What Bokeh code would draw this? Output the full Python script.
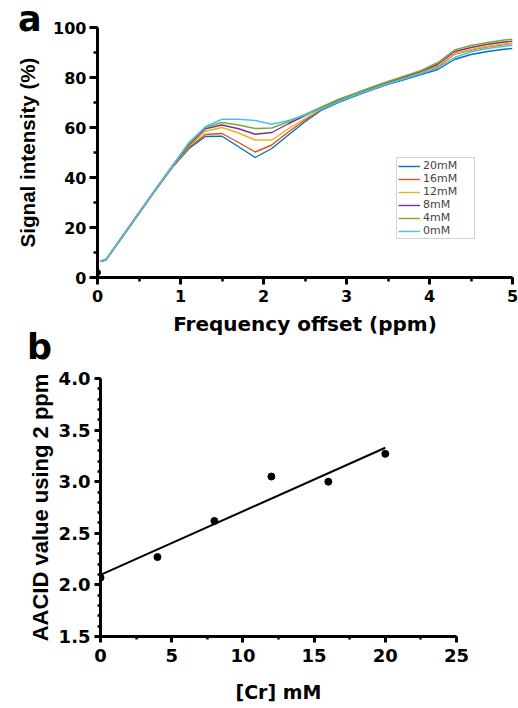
import numpy as np
from bokeh.plotting import figure
from bokeh.models import (Legend, LegendItem, SingleIntervalTicker, Div,
                          Range1d, PrintfTickFormatter)
from bokeh.layouts import column, row
from bokeh.embed import file_html
from bokeh.resources import INLINE

# ---------------- data (panel a) ----------------
ppm = [0.03, 0.1, 0.3, 0.5, 0.7, 0.9, 1.1, 1.3, 1.5, 1.7, 1.9, 2.1, 2.3, 2.5,
       2.7, 2.9, 3.1, 3.3, 3.5, 3.7, 3.9, 4.1, 4.3, 4.5, 4.7, 4.9, 5.0]
sig_20mM = [6.5, 7.0, 16.2, 25.6, 35.0, 44.0, 51.5, 56.4, 56.5, 52.3, 48.0, 51.6, 57.0, 62.3,
            67.0, 70.0, 72.6, 75.0, 77.3, 79.2, 81.2, 83.2, 87.2, 89.2, 90.4, 91.3, 91.6]
sig_16mM = [6.5, 7.0, 16.3, 25.7, 35.1, 44.2, 52.0, 57.2, 57.6, 54.0, 50.2, 53.0, 58.2, 63.0,
            67.3, 70.5, 73.0, 75.4, 77.7, 79.7, 81.8, 84.2, 89.3, 91.0, 92.3, 93.2, 93.6]
sig_12mM = [6.4, 6.9, 16.2, 25.7, 35.1, 44.3, 52.5, 58.5, 60.0, 57.8, 55.0, 55.0, 59.5, 63.6,
            67.5, 70.7, 73.2, 75.6, 77.9, 80.0, 82.1, 84.6, 89.5, 91.2, 92.5, 93.4, 93.7]
sig_8mM = [6.5, 7.0, 16.5, 25.9, 35.3, 44.5, 53.0, 59.5, 61.0, 59.5, 57.3, 58.0, 61.5, 64.8,
           68.0, 71.0, 73.4, 75.9, 78.2, 80.3, 82.5, 85.3, 90.3, 92.0, 93.3, 94.2, 94.5]
sig_4mM = [6.6, 7.1, 16.6, 26.0, 35.4, 44.6, 53.5, 60.0, 62.0, 61.0, 59.6, 59.8, 62.3, 65.2,
           68.2, 71.2, 73.6, 76.1, 78.4, 80.6, 82.8, 86.0, 91.0, 92.8, 94.0, 95.0, 95.3]
sig_0mM = [6.5, 7.0, 16.5, 25.9, 35.3, 44.5, 54.0, 60.3, 63.3, 63.3, 62.8, 61.3, 62.8, 65.0,
           67.5, 70.3, 72.9, 75.2, 77.5, 79.5, 81.6, 83.8, 88.0, 90.3, 91.6, 92.5, 92.8]
series_labels = ["20mM", "16mM", "12mM", "8mM", "4mM", "0mM"]
series_values = [sig_20mM, sig_16mM, sig_12mM, sig_8mM, sig_4mM, sig_0mM]
series_colors = ["#0072BD", "#D95319", "#EDB120", "#7E2F8E", "#77AC30", "#4DBEEE"]
origin_x = [0.0]
origin_y = [2.0]

# ---------------- data (panel b) ----------------
cr_mM = [0, 4, 8, 12, 16, 20]
aacid = [2.07, 2.27, 2.62, 3.05, 3.00, 3.27]

BOLD = "DejaVu Sans"
ROT = "Liberation Sans"


def style_axis(ax, tick_size, tick_out, minor_out, label_font, label_size,
               label_standoff, axis_standoff):
    ax.axis_line_width = 3
    ax.axis_line_color = "black"
    ax.major_tick_line_width = 3
    ax.minor_tick_line_width = 2.5
    ax.major_tick_line_color = "black"
    ax.minor_tick_line_color = "black"
    ax.major_tick_in = 0
    ax.minor_tick_in = 0
    ax.major_tick_out = tick_out
    ax.minor_tick_out = minor_out
    ax.major_label_text_font = BOLD
    ax.major_label_text_font_style = "bold"
    ax.major_label_text_font_size = tick_size
    ax.major_label_text_color = "black"
    ax.major_label_standoff = label_standoff
    ax.axis_label_text_font = label_font
    ax.axis_label_text_font_style = "bold"
    ax.axis_label_text_font_size = label_size
    ax.axis_label_text_color = "black"
    ax.axis_label_standoff = axis_standoff


def panel_letter(letter, left, top):
    return Div(text=letter, styles={
        "position": "absolute", "left": f"{left}px", "top": f"{top}px",
        "font-family": "'DejaVu Sans'", "font-weight": "bold",
        "font-size": "35px", "line-height": "1", "color": "black",
        "z-index": "10", "margin": "0", "padding": "0"})


# ---------------- panel a ----------------
pa = figure(width=518, height=338, output_backend="svg", toolbar_location=None,
            x_range=Range1d(0, 5), y_range=Range1d(0, 100),
            min_border_left=97, min_border_right=6, min_border_top=27,
            min_border_bottom=61)
pa.outline_line_color = None
pa.xgrid.visible = False
pa.ygrid.visible = False
pa.xaxis.ticker = SingleIntervalTicker(interval=1, num_minor_ticks=2)
pa.yaxis.ticker = SingleIntervalTicker(interval=20, num_minor_ticks=2)
pa.xaxis.axis_label = "Frequency offset (ppm)"
pa.yaxis.axis_label = "Signal intensity (%)"
style_axis(pa.xaxis[0], "16px", 7, 4, BOLD, "20px", 5, 7)
style_axis(pa.yaxis[0], "16px", 8, 4, ROT, "20.6px", 3, 11)

items = []
for lab, vals, col in zip(series_labels, series_values, series_colors):
    r = pa.line(ppm, vals, line_color=col, line_width=1.4)
    items.append(LegendItem(label=lab, renderers=[r]))
pa.scatter(origin_x, origin_y, size=6, color="black")

leg = Legend(items=items, location=(299, 38), label_text_font="DejaVu Sans",
             label_text_font_size="11px", glyph_width=22, glyph_height=12,
             label_height=12, label_width=50, label_standoff=3, spacing=0,
             padding=1, margin=0, border_line_color="#a6a6a6",
             border_line_width=1.2, background_fill_color="white")
pa.add_layout(leg, "center")

# ---------------- panel b ----------------
pb = figure(width=518, height=370, output_backend="svg", toolbar_location=None,
            x_range=Range1d(0, 25), y_range=Range1d(1.5, 4.0),
            min_border_left=100, min_border_right=62, min_border_top=40,
            min_border_bottom=72)
pb.outline_line_color = None
pb.xgrid.visible = False
pb.ygrid.visible = False
pb.xaxis.ticker = SingleIntervalTicker(interval=5, num_minor_ticks=2)
pb.yaxis.ticker = SingleIntervalTicker(interval=0.5, num_minor_ticks=5)
pb.yaxis.formatter = PrintfTickFormatter(format="%.1f")
pb.xaxis.axis_label = "[Cr] mM"
pb.yaxis.axis_label = "AACID value using 2 ppm"
style_axis(pb.xaxis[0], "18px", 6, 3, BOLD, "19px", 6, 16)
style_axis(pb.yaxis[0], "18px", 6, 3, ROT, "22px", 4, 3)

slope, intercept = np.polyfit(cr_mM, aacid, 1)
fit_x = [min(cr_mM), max(cr_mM)]
fit_y = [intercept + slope * x for x in fit_x]
pb.line(fit_x, fit_y, line_color="black", line_width=2)
pb.scatter(cr_mM, aacid, size=7, color="black")

p = column(pa, row(pb), panel_letter("a", 18, 2), panel_letter("b", 27, 330))
open("out.html", "w").write(file_html(p, INLINE))
